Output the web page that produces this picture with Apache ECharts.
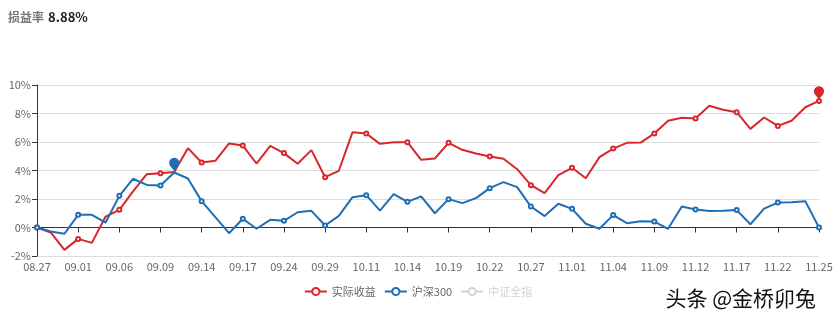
<!DOCTYPE html>
<html>
<head>
<meta charset="utf-8">
<script src="https://cdn.jsdelivr.net/npm/echarts@6/dist/echarts.min.js"></script>
<style>
html,body{margin:0;padding:0;background:#fff;}
#c{width:836px;height:328px;}
</style>
</head>
<body>
<div id="c"></div>
<script>
const dates = ['08.27','08.30','08.31','09.01','09.02','09.03','09.06','09.07','09.08','09.09','09.10','09.13','09.14','09.15','09.16','09.17','09.22','09.23','09.24','09.27','09.28','09.29','09.30','10.08','10.11','10.12','10.13','10.14','10.15','10.18','10.19','10.20','10.21','10.22','10.25','10.26','10.27','10.28','10.29','11.01','11.02','11.03','11.04','11.05','11.08','11.09','11.10','11.11','11.12','11.15','11.16','11.17','11.18','11.19','11.22','11.23','11.24','11.25'];
const actual = [0,-0.35,-1.57,-0.8,-1.08,0.77,1.24,2.53,3.74,3.81,3.9,5.57,4.56,4.68,5.9,5.75,4.49,5.73,5.22,4.47,5.43,3.53,3.98,6.69,6.6,5.87,5.99,5.99,4.75,4.84,5.94,5.45,5.19,4.98,4.82,4.09,2.97,2.41,3.68,4.19,3.46,4.94,5.54,5.94,5.96,6.6,7.49,7.7,7.65,8.54,8.26,8.09,6.92,7.72,7.13,7.49,8.44,8.88];
const hs300 = [0,-0.28,-0.44,0.89,0.89,0.35,2.22,3.42,2.99,2.95,3.86,3.44,1.85,0.73,-0.4,0.61,-0.09,0.54,0.47,1.07,1.17,0.14,0.82,2.13,2.27,1.19,2.34,1.8,2.18,1.0,1.99,1.71,2.06,2.76,3.18,2.83,1.47,0.8,1.67,1.31,0.26,-0.09,0.87,0.3,0.44,0.42,-0.09,1.47,1.26,1.15,1.17,1.22,0.23,1.33,1.75,1.78,1.85,0];
const csiAll = [];
const seriesNames = ['实际收益','沪深300','中证全指'];
const titleLabel = '损益率';
const titleValue = '8.88%';
const watermark = '头条 @金桥卯兔';

const chart = echarts.init(document.getElementById('c'), null, {renderer:'canvas'});
const font = '"Microsoft YaHei","Noto Sans CJK SC",sans-serif';
chart.setOption({
  animation:false,
  color:['#d8262b','#1e6eb5','#c8c8c8'],
  textStyle:{fontFamily:font},
  title:{
    left:3, top:3,
    text:'{a|'+titleLabel+'} {b|'+titleValue+'}',
    textStyle:{rich:{
      a:{fontSize:12,color:'#777',fontFamily:font},
      b:{fontSize:13,color:'#222',fontWeight:'bold',fontFamily:font}
    }}
  },
  legend:{
    bottom:26, left:'center',
    itemWidth:22, itemHeight:9, itemGap:8,
    textStyle:{fontSize:11,color:'#666',fontFamily:font},
    data:seriesNames,
    selected:{'中证全指':false}
  },
  grid:{left:37,right:17,top:85,bottom:72},
  xAxis:{
    type:'category', boundaryGap:false, data:dates,
    axisLine:{onZero:true,lineStyle:{color:'#333'}},
    axisTick:{interval:2,length:5,lineStyle:{color:'#333'}},
    axisLabel:{interval:2,margin:5,fontSize:11,color:'#666',fontFamily:font}
  },
  yAxis:{
    type:'value', min:-2, max:10, interval:2,
    axisLine:{show:true,lineStyle:{color:'#333'}},
    axisTick:{show:true,length:5,lineStyle:{color:'#333'}},
    axisLabel:{formatter:'{value}%',fontSize:11,color:'#666',margin:6,fontFamily:font},
    splitLine:{lineStyle:{color:'#dcdcdc'}}
  },
  graphic:[{
    type:'text', right:20, top:288,
    style:{text:watermark,fontSize:21,fill:'#111',fontFamily:font}
  }],
  series:[
    {name:seriesNames[0],type:'line',data:actual,symbol:'emptyCircle',symbolSize:4,showAllSymbol:false,
     lineStyle:{width:2},
     markPoint:{symbol:'pin',symbolSize:17,label:{show:false},data:[{type:'max'}]}},
    {name:seriesNames[1],type:'line',data:hs300,symbol:'emptyCircle',symbolSize:4,showAllSymbol:false,
     lineStyle:{width:2},
     markPoint:{symbol:'pin',symbolSize:17,label:{show:false},data:[{type:'max'}]}},
    {name:seriesNames[2],type:'line',data:csiAll,symbol:'emptyCircle',symbolSize:4,showAllSymbol:false,
     lineStyle:{width:2}}
  ]
});
</script>
</body>
</html>
